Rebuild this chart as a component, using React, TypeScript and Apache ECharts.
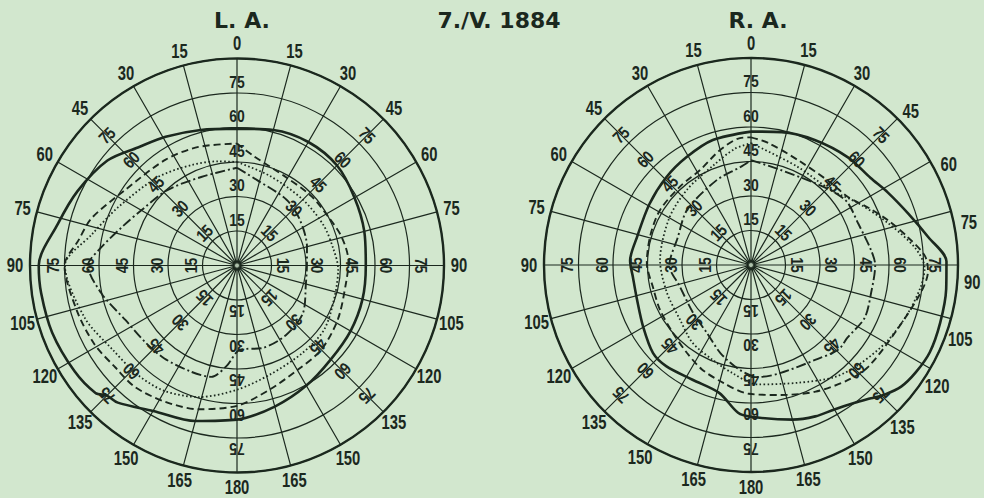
import React, { useEffect, useRef } from 'react';
import * as echarts from 'echarts';

// ---------- data ----------
const ringValues = [15, 30, 45, 60, 75];
const ringLabelDirections = [0, 45, 90, 135, 180, 225, 270, 315];
const meridianStep = 15;
const fieldLimit = 90;
const meridians = Array.from({ length: 360 / meridianStep }, (_, i) => i * meridianStep);

const titleLeft = 'L. A.';
const titleDate = '7./V. 1884';
const titleRight = 'R. A.';

// isopter points: [meridian in degrees clockwise from top, eccentricity in degrees]
type Pt = [number, number];

const laSolid: Pt[] = [
  [0, 59.5], [15, 61], [30, 62], [45, 61.5], [60, 59], [75, 57.3], [90, 56], [105, 56.5],
  [120, 57], [135, 57.7], [150, 60.3], [165, 63.5], [180, 67], [195, 70], [210, 73],
  [221, 79], [225, 80], [228, 82.8], [237, 84.3], [250, 85.5], [262, 86], [270, 86.2],
  [283, 80], [295, 76.5], [309, 72.5], [320, 67], [331, 64], [345, 61],
];
const laDashed: Pt[] = [
  [0, 53], [9, 48], [28, 44], [47, 44.2], [62, 45], [75, 47.2], [88, 48.5], [99, 48],
  [118, 49.7], [135, 51.8], [150, 52.5], [166, 56], [180, 61], [195, 64.7], [208, 67],
  [220, 69], [230, 69], [241, 70.8], [254, 72.3], [270, 75], [279, 69.8], [288, 66.5],
  [304, 58.7], [326, 55.5], [342, 54.2],
];
const laDotted: Pt[] = [
  [0, 45], [20, 41.5], [45, 40.5], [65, 41.5], [80, 42.5], [92, 44], [107, 44.5],
  [126, 47], [143, 47.5], [163, 49.5], [180, 54], [196, 59.5], [210, 63], [222, 64.2],
  [236, 65.3], [251, 70], [270, 74.8], [282, 64.6], [296, 57.6], [318, 51.6], [336, 47.9],
  [350, 46],
];
const laDashDot: Pt[] = [
  [0, 42.5], [13, 38.2], [37, 35.8], [54, 33.8], [75, 31.5], [90, 30.4], [105, 31],
  [126, 35.4], [145, 37], [162, 37.6], [178, 36.7], [186, 44], [193, 49.7], [203, 50.3],
  [218, 51.3], [230, 52], [244, 54], [258, 60], [270, 64.8], [277, 60], [290, 52],
  [300, 48], [317, 44.7], [338, 41.5],
];

const raSolid: Pt[] = [
  [0, 58], [13, 59.3], [27, 61], [42, 63], [54, 64.3], [62, 67.3], [72, 72], [81, 78],
  [89, 85], [97, 85.5], [107, 86], [116, 86.5], [123, 85.5], [129, 84], [134, 81],
  [138, 78], [143, 75], [150, 72.5], [157, 71.5], [165, 69.6], [180, 66], [185, 64.5],
  [194, 57.3], [207, 56], [220, 57.4], [228, 57.3], [240, 54.1], [253, 51.8], [264, 51.6],
  [272, 52.6], [284, 51], [301, 51.5], [316, 53], [329, 54.6], [343, 56.8],
];
const raDashed: Pt[] = [
  [0, 55.5], [8, 53.6], [24, 50], [44, 49.8], [55, 51.5], [64, 56.8], [72, 62.7],
  [80, 69.3], [87, 75.7], [92, 77], [99, 74.9], [115, 69.2], [131, 67.5], [140, 65.4],
  [153, 61.8], [167, 58], [181, 56], [193, 52.7], [205, 50.2], [216, 47.3], [229, 45],
  [244, 44.1], [257, 43.7], [271, 45.3], [286, 45.6], [301, 46.2], [318, 46], [332, 46.9],
  [345, 51.8], [355, 55.4],
];
const raDotted: Pt[] = [
  [0, 53], [25, 47.3], [47, 47.7], [60, 53.8], [73, 62.3], [84, 71.7], [91, 75.5],
  [97, 74.5], [107, 71.4], [119, 67.9], [132, 64], [143, 60.9], [158, 55.2], [177, 52],
  [190, 47.6], [202, 44.5], [217, 42.3], [232, 39], [252, 38.5], [273, 39.6], [300, 41],
  [320, 43], [340, 46.5], [352, 51],
];
const raDashDot: Pt[] = [
  [0, 45.6], [17, 43.3], [38, 45.2], [49, 48.1], [57, 50], [69, 50], [83, 52.6], [90, 54],
  [103, 53.6], [115, 54.5], [127, 52.5], [134, 52.9], [146, 49.8], [165, 48.7],
  [176, 48.8], [186, 45.9], [199, 40.6], [213, 35.2], [230, 32.7], [253, 32.3],
  [270, 35.5], [290, 34], [311, 36.7], [338, 39.8], [354, 42.9],
];

// ---------- layout & styles ----------
const INK = '#1b281e';
const BG = '#d2e7ce';
const LABEL_FONT = "'Liberation Sans', Arial, 'DejaVu Sans', sans-serif";
const TITLE_FONT = "'DejaVu Sans', 'Open Sans', sans-serif";
const RADIUS_PX = 207;
const outerLabelRadius = 96.5; // in field degrees (just outside the 90 ring)
const ringLabelOffset = 5;

const lineStyles: Record<string, { type: any; width: number }> = {
  solid: { type: 'solid', width: 2.6 },
  dashed: { type: [7, 4], width: 1.9 },
  dotted: { type: [1.6, 2.4], width: 1.8 },
  dashDot: { type: [10, 3, 2, 3], width: 1.9 },
};

const panels = [
  {
    center: [237, 265.5],
    labelShift: {} as Record<number, number>,
    curves: [
      [laSolid, 'solid'],
      [laDashed, 'dashed'],
      [laDotted, 'dotted'],
      [laDashDot, 'dashDot'],
    ] as [Pt[], string][],
  },
  {
    center: [751, 265],
    labelShift: { 45: 1, 60: 3, 75: 4, 90: 4.5, 105: 4.5, 120: 3, 135: 2, 150: 0.5 } as Record<number, number>,
    curves: [
      [raSolid, 'solid'],
      [raDashed, 'dashed'],
      [raDotted, 'dotted'],
      [raDashDot, 'dashDot'],
    ] as [Pt[], string][],
  },
];

function toSeriesData(points: Pt[]) {
  const d = points.map(([a, r]) => [r, a]);
  d.push([points[0][1], points[0][0] + 360]);
  return d;
}

function meridianText(a: number) {
  return String(a <= 180 ? a : 360 - a);
}

function buildOption() {
  const polar: any[] = [];
  const angleAxis: any[] = [];
  const radiusAxis: any[] = [];
  const series: any[] = [];

  panels.forEach((p, i) => {
    polar.push({ center: p.center, radius: RADIUS_PX });
    angleAxis.push({
      polarIndex: i,
      type: 'value',
      min: 0,
      max: 360,
      interval: meridianStep,
      startAngle: 90,
      clockwise: true,
      axisLine: { lineStyle: { color: INK, width: 2.4 } },
      axisTick: { show: false },
      axisLabel: { show: false },
      splitLine: { lineStyle: { color: INK, width: 1.2 } },
    });
    radiusAxis.push({
      polarIndex: i,
      type: 'value',
      min: 0,
      max: fieldLimit,
      interval: 15,
      axisLine: { show: false },
      axisTick: { show: false },
      axisLabel: { show: false },
      splitLine: { lineStyle: { color: INK, width: 1.2 } },
    });

    p.curves.forEach(([pts, kind]) => {
      series.push({
        type: 'line',
        coordinateSystem: 'polar',
        polarIndex: i,
        data: toSeriesData(pts),
        symbol: 'none',
        smooth: 0.3,
        silent: true,
        lineStyle: { color: INK, width: lineStyles[kind].width, type: lineStyles[kind].type },
        z: 3,
      });
    });

    // meridian labels outside the circle (upright, condensed)
    series.push({
      type: 'custom',
      coordinateSystem: 'polar',
      polarIndex: i,
      clip: false,
      silent: true,
      z: 6,
      data: meridians.map((a) => [outerLabelRadius, a + (p.labelShift[a] || 0), a]),
      renderItem: (_params: any, api: any) => {
        const pt = api.coord([api.value(0), api.value(1)]);
        return {
          type: 'text',
          x: pt[0],
          y: pt[1],
          scaleX: 0.74,
          style: {
            text: meridianText(api.value(2)),
            fill: INK,
            font: `bold 20px ${LABEL_FONT}`,
            align: 'center',
            verticalAlign: 'middle',
          },
        };
      },
    });

    // ring (eccentricity) labels along the 8 principal meridians, rotated outward
    const ringLabelData = ringLabelDirections.flatMap((dir) =>
      ringValues.map((v) => [v + ringLabelOffset, dir, v])
    );
    series.push({
      type: 'custom',
      coordinateSystem: 'polar',
      polarIndex: i,
      clip: false,
      silent: true,
      z: 6,
      data: ringLabelData,
      renderItem: (_params: any, api: any) => {
        const a = api.value(1);
        const pt = api.coord([api.value(0), a]);
        return {
          type: 'text',
          x: pt[0],
          y: pt[1],
          rotation: (-a * Math.PI) / 180,
          scaleX: 0.82,
          style: {
            text: String(api.value(2)),
            fill: INK,
            font: `bold 17px ${LABEL_FONT}`,
            align: 'center',
            verticalAlign: 'middle',
          },
        };
      },
    });

    series.push({
      type: 'scatter',
      coordinateSystem: 'polar',
      polarIndex: i,
      data: [[0, 0]],
      symbol: 'circle',
      symbolSize: 6,
      silent: true,
      itemStyle: { color: BG, borderColor: INK, borderWidth: 2 },
      z: 5,
    });
  });

  const titleText = (text: string, x: number) => ({
    type: 'text',
    x,
    y: 20,
    style: {
      text,
      fill: INK,
      font: `bold 22px ${TITLE_FONT}`,
      textAlign: 'center',
      textVerticalAlign: 'middle',
      align: 'center',
      verticalAlign: 'middle',
    },
  });

  return {
    animation: false,
    backgroundColor: BG,
    polar,
    angleAxis,
    radiusAxis,
    series,
    graphic: [titleText(titleLeft, 242), titleText(titleDate, 499), titleText(titleRight, 758)],
  };
}

export default function App() {
  const ref = useRef<HTMLDivElement>(null);
  useEffect(() => {
    if (!ref.current) return;
    const chart = echarts.init(ref.current, undefined, { renderer: 'svg' });
    chart.setOption(buildOption() as any);
    return () => chart.dispose();
  }, []);
  return (
    <div
      ref={ref}
      style={{ position: 'fixed', left: 0, top: 0, width: 984, height: 498, background: BG }}
    />
  );
}
